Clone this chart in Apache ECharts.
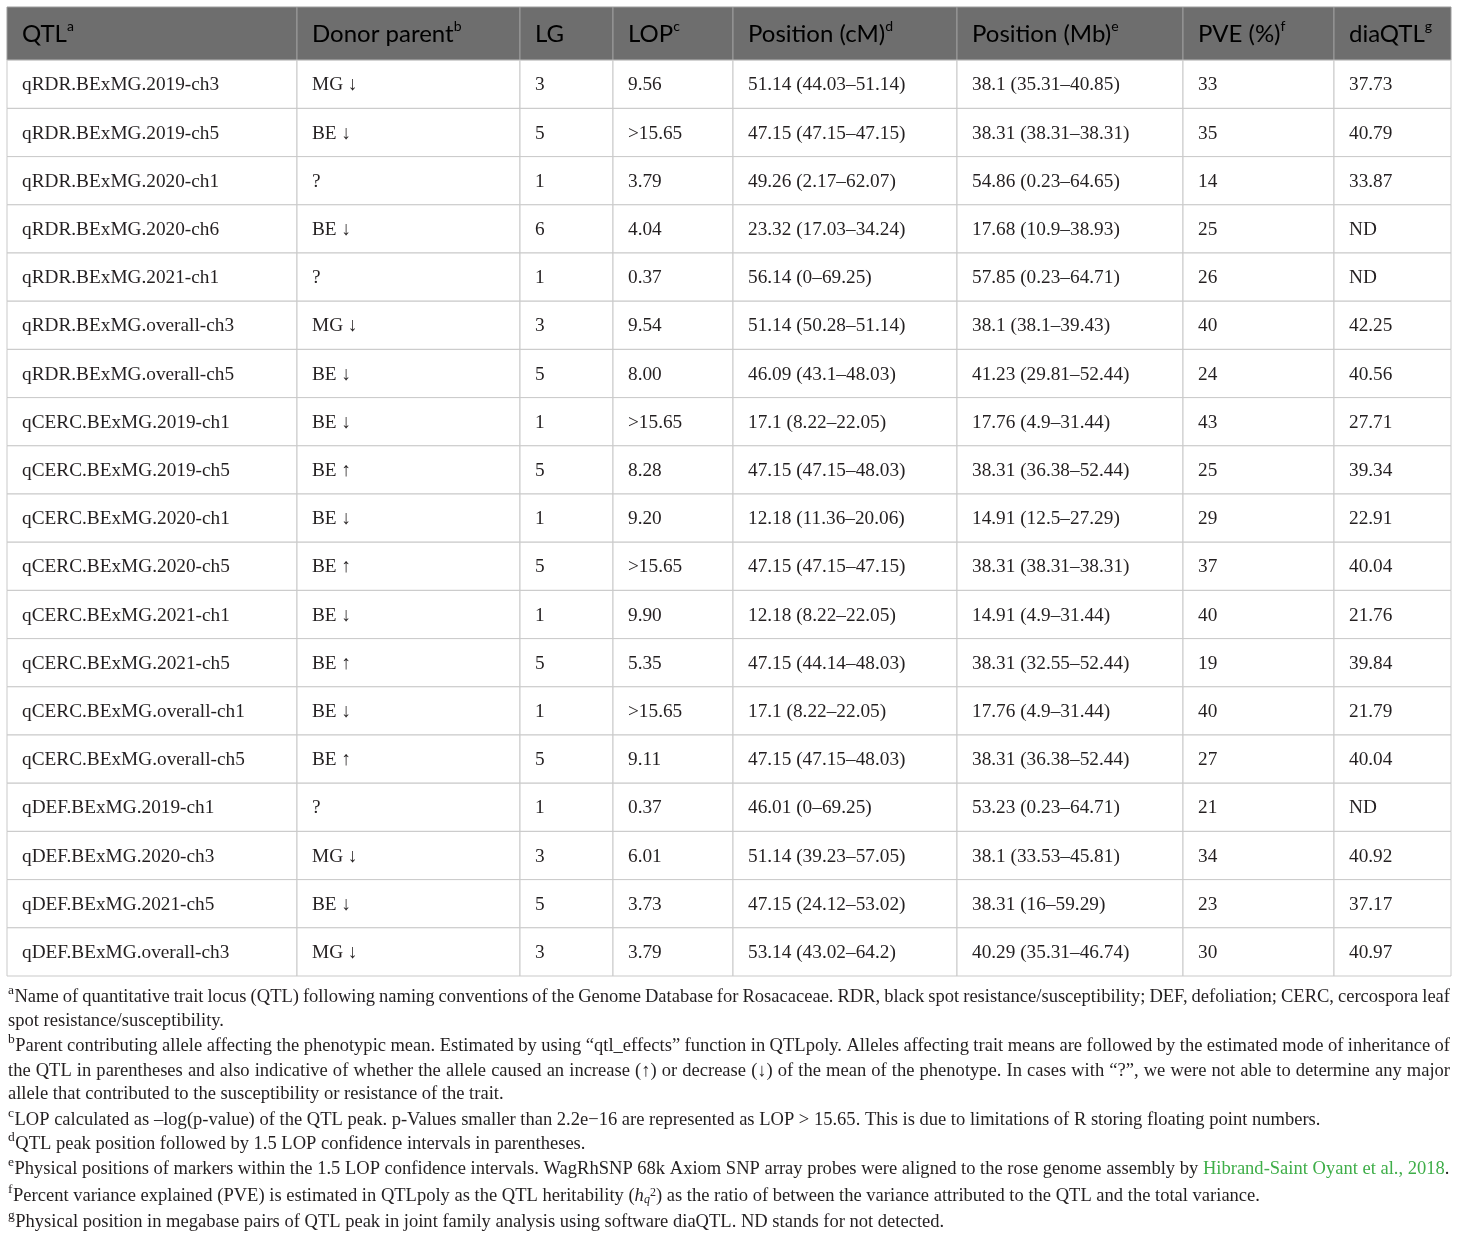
<!DOCTYPE html>
<html>
<head>
<meta charset="utf-8">
<script src="https://cdn.jsdelivr.net/npm/echarts@6/dist/echarts.min.js"></script>
<style>
  html, body { margin: 0; padding: 0; background: #fff; }
  #main { width: 1460px; height: 1241px; }
</style>
</head>
<body>
<div id="main"></div>
<script>
var columns = ['QTL', 'Donor parent', 'LG', 'LOP', 'Position (cM)', 'Position (Mb)', 'PVE (%)', 'diaQTL']
var columnNotes = ['a', 'b', '', 'c', 'd', 'e', 'f', 'g']

var qtlNames = [
  'qRDR.BExMG.2019-ch3', 'qRDR.BExMG.2019-ch5', 'qRDR.BExMG.2020-ch1', 'qRDR.BExMG.2020-ch6',
  'qRDR.BExMG.2021-ch1', 'qRDR.BExMG.overall-ch3', 'qRDR.BExMG.overall-ch5', 'qCERC.BExMG.2019-ch1',
  'qCERC.BExMG.2019-ch5', 'qCERC.BExMG.2020-ch1', 'qCERC.BExMG.2020-ch5', 'qCERC.BExMG.2021-ch1',
  'qCERC.BExMG.2021-ch5', 'qCERC.BExMG.overall-ch1', 'qCERC.BExMG.overall-ch5', 'qDEF.BExMG.2019-ch1',
  'qDEF.BExMG.2020-ch3', 'qDEF.BExMG.2021-ch5', 'qDEF.BExMG.overall-ch3'
]
var donorParents = [
  'MG ↓', 'BE ↓', '?', 'BE ↓', '?', 'MG ↓', 'BE ↓', 'BE ↓', 'BE ↑', 'BE ↓',
  'BE ↑', 'BE ↓', 'BE ↑', 'BE ↓', 'BE ↑', '?', 'MG ↓', 'BE ↓', 'MG ↓'
]
var linkageGroups = [3, 5, 1, 6, 1, 3, 5, 1, 5, 1, 5, 1, 5, 1, 5, 1, 3, 5, 3]
var lopValues = [
  '9.56', '>15.65', '3.79', '4.04', '0.37', '9.54', '8.00', '>15.65', '8.28', '9.20',
  '>15.65', '9.90', '5.35', '>15.65', '9.11', '0.37', '6.01', '3.73', '3.79'
]
var positionCM = [
  '51.14 (44.03–51.14)', '47.15 (47.15–47.15)', '49.26 (2.17–62.07)', '23.32 (17.03–34.24)',
  '56.14 (0–69.25)', '51.14 (50.28–51.14)', '46.09 (43.1–48.03)', '17.1 (8.22–22.05)',
  '47.15 (47.15–48.03)', '12.18 (11.36–20.06)', '47.15 (47.15–47.15)', '12.18 (8.22–22.05)',
  '47.15 (44.14–48.03)', '17.1 (8.22–22.05)', '47.15 (47.15–48.03)', '46.01 (0–69.25)',
  '51.14 (39.23–57.05)', '47.15 (24.12–53.02)', '53.14 (43.02–64.2)'
]
var positionMb = [
  '38.1 (35.31–40.85)', '38.31 (38.31–38.31)', '54.86 (0.23–64.65)', '17.68 (10.9–38.93)',
  '57.85 (0.23–64.71)', '38.1 (38.1–39.43)', '41.23 (29.81–52.44)', '17.76 (4.9–31.44)',
  '38.31 (36.38–52.44)', '14.91 (12.5–27.29)', '38.31 (38.31–38.31)', '14.91 (4.9–31.44)',
  '38.31 (32.55–52.44)', '17.76 (4.9–31.44)', '38.31 (36.38–52.44)', '53.23 (0.23–64.71)',
  '38.1 (33.53–45.81)', '38.31 (16–59.29)', '40.29 (35.31–46.74)'
]
var pveValues = [33, 35, 14, 25, 26, 40, 24, 43, 25, 29, 37, 40, 19, 40, 27, 21, 34, 23, 30]
var diaQTL = [
  '37.73', '40.79', '33.87', 'ND', 'ND', '42.25', '40.56', '27.71', '39.34', '22.91',
  '40.04', '21.76', '39.84', '21.79', '40.04', 'ND', '40.92', '37.17', '40.97'
]

// footnote lines as broken in the original, [note letter, text, justified?]
var footnotes = [
  ['a', 'Name of quantitative trait locus (QTL) following naming conventions of the Genome Database for Rosacaceae. RDR, black spot resistance/susceptibility; DEF, defoliation; CERC, cercospora leaf', true],
  ['', 'spot resistance/susceptibility.', false],
  ['b', 'Parent contributing allele affecting the phenotypic mean. Estimated by using “qtl_effects” function in QTLpoly. Alleles affecting trait means are followed by the estimated mode of inheritance of', true],
  ['', 'the QTL in parentheses and also indicative of whether the allele caused an increase (↑) or decrease (↓) of the mean of the phenotype. In cases with “?”, we were not able to determine any major', true],
  ['', 'allele that contributed to the susceptibility or resistance of the trait.', false],
  ['c', 'LOP calculated as –log(p-value) of the QTL peak. p-Values smaller than 2.2e−16 are represented as LOP > 15.65. This is due to limitations of R storing floating point numbers.', false],
  ['d', 'QTL peak position followed by 1.5 LOP confidence intervals in parentheses.', false],
  ['e', 'Physical positions of markers within the 1.5 LOP confidence intervals. WagRhSNP 68k Axiom SNP array probes were aligned to the rose genome assembly by {link|Hibrand-Saint Oyant et al., 2018}.', false],
  ['f', 'Percent variance explained (PVE) is estimated in QTLpoly as the QTL heritability ({it|h}{sub|q}{sup2|2}) as the ratio of between the variance attributed to the QTL and the total variance.', false],
  ['g', 'Physical position in megabase pairs of QTL peak in joint family analysis using software diaQTL. ND stands for not detected.', false]
]
var footnoteY = [997, 1021, 1046, 1071, 1094, 1120, 1144, 1169, 1196, 1222]

// layout
var colEdges = [0, 290, 513, 606, 726, 950, 1176, 1327, 1444]
var serif = '"Liberation Serif", "DejaVu Serif", serif'
var sans = 'Lato, "Open Sans", sans-serif'
var textColor = '#231f20'

var tableRows = [columns]
for (let i = 0; i < qtlNames.length; i++) {
  tableRows.push([
    qtlNames[i], donorParents[i], String(linkageGroups[i]), lopValues[i],
    positionCM[i], positionMb[i], String(pveValues[i]), diaQTL[i]
  ])
}
var rowKeys = tableRows.map(function (r, i) { return i === 0 ? 'header' : r[0] })

var cells = []
for (let r = 0; r < tableRows.length; r++) {
  for (let c = 0; c < columns.length; c++) {
    cells.push([c, r])
  }
}

function renderCell(params, api) {
  var col = api.value(0)
  var row = api.value(1)
  var p0 = api.coord([colEdges[col], row])
  var p1 = api.coord([colEdges[col + 1], row])
  var h = api.size([0, 1])[1]
  var isHead = row === 0
  var top = p0[1] - h / 2 - (isHead ? 5 : 0)
  var height = h + (isHead ? 5 : 0)
  var text = isHead
    ? '{h|' + columns[col] + '}' + (columnNotes[col] ? '{s|' + columnNotes[col] + '}' : '')
    : tableRows[row][col]
  return {
    type: 'group',
    children: [
      {
        type: 'rect',
        shape: { x: p0[0], y: top, width: p1[0] - p0[0], height: height },
        style: { fill: isHead ? '#6e6e6e' : '#fff', stroke: isHead ? '#9c9c9c' : '#c9c9c9', lineWidth: 1 }
      },
      {
        type: 'text',
        x: p0[0] + 15,
        y: top + height / 2 + 1,
        style: isHead ? {
          text: text,
          verticalAlign: 'middle',
          rich: {
            h: { fontFamily: sans, fontSize: 24, color: '#fff', lineHeight: 30 },
            s: { fontFamily: sans, fontSize: 14, color: '#fff', lineHeight: 14, verticalAlign: 'top' }
          }
        } : {
          text: text,
          fontFamily: serif,
          fontSize: 19.3,
          fill: textColor,
          verticalAlign: 'middle'
        }
      }
    ]
  }
}

// footnotes (justified lines spread word by word)
var measureCtx = document.createElement('canvas').getContext('2d')
function textWidth(str, size) {
  measureCtx.font = size + 'px "Liberation Serif"'
  return measureCtx.measureText(str).width
}
var fnSize = 18.55
var supSize = 13.5
var fnRich = {
  link: { fontFamily: serif, fontSize: fnSize, fill: '#3fae49' },
  it: { fontFamily: serif, fontSize: fnSize, fill: textColor, fontStyle: 'italic' },
  sub: { fontFamily: serif, fontSize: 12, fill: textColor, fontStyle: 'italic', lineHeight: 12, verticalAlign: 'bottom' },
  sup2: { fontFamily: serif, fontSize: 12, fill: textColor, lineHeight: 12, verticalAlign: 'top' }
}
var graphics = []
var xStart = 8
var xEnd = 1450
footnotes.forEach(function (fn, i) {
  var x = xStart
  var y = footnoteY[i]
  if (fn[0]) {
    graphics.push({
      type: 'text', x: x, y: y - 7,
      style: { text: fn[0], fontFamily: serif, fontSize: supSize, fill: textColor, verticalAlign: 'middle' }
    })
    x += textWidth(fn[0], supSize) + 0.5
  }
  if (fn[2]) {
    var words = fn[1].split(' ')
    var widths = words.map(function (w) { return textWidth(w, fnSize) })
    var total = widths.reduce(function (a, b) { return a + b }, 0)
    var gap = (xEnd - x - total) / (words.length - 1)
    words.forEach(function (w, k) {
      graphics.push({
        type: 'text', x: x, y: y,
        style: { text: w, fontFamily: serif, fontSize: fnSize, fill: textColor, verticalAlign: 'middle' }
      })
      x += widths[k] + gap
    })
  } else {
    graphics.push({
      type: 'text', x: x, y: y,
      style: {
        text: fn[1], fontFamily: serif, fontSize: fnSize, fill: textColor,
        verticalAlign: 'middle', rich: fnRich
      }
    })
  }
})

var myChart = echarts.init(document.getElementById('main'))
var option = {
  animation: false,
  backgroundColor: '#fff',
  grid: { left: 7, top: 12, width: 1444, height: 964 },
  xAxis: { type: 'value', min: 0, max: 1444, show: false },
  yAxis: { type: 'category', data: rowKeys, inverse: true, show: false },
  series: [
    {
      type: 'custom',
      renderItem: renderCell,
      data: cells,
      silent: true
    }
  ],
  graphic: graphics
}
myChart.setOption(option)
</script>
</body>
</html>
